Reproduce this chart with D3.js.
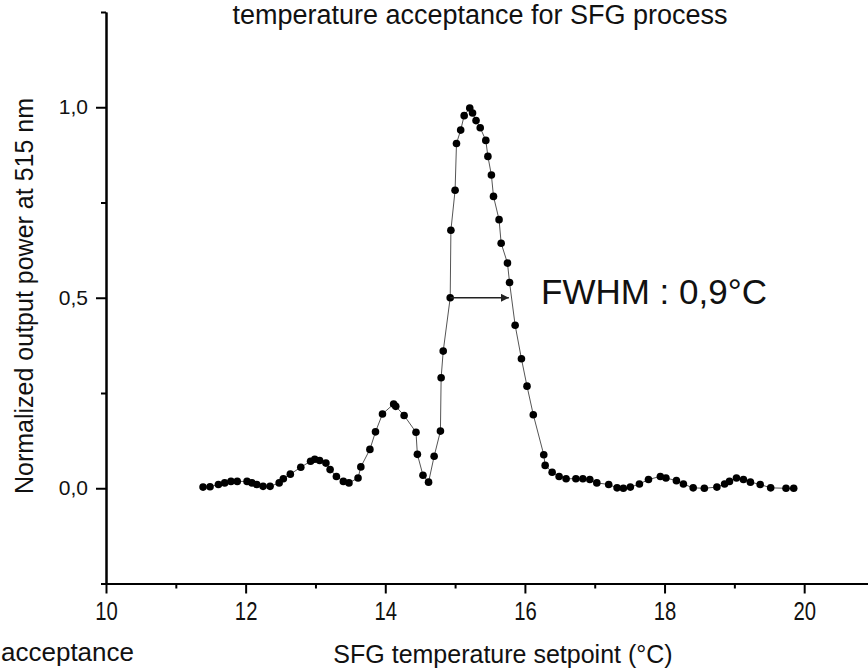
<!DOCTYPE html>
<html>
<head>
<meta charset="utf-8">
<script src="https://cdn.jsdelivr.net/npm/d3@7"></script>
<style>
  html, body { margin: 0; padding: 0; background: #fff; }
  svg { display: block; }
  text { font-family: "Liberation Sans", Arial, Helvetica, sans-serif; fill: #111; }
</style>
</head>
<body>
<svg id="chart" width="868" height="668"></svg>
<script>
// ---- data ----
const temps = [11.39,11.49,11.61,11.70,11.79,11.88,12.02,12.09,12.16,12.25,
  12.35,12.48,12.54,12.64,12.79,12.93,12.99,13.06,13.15,13.21,
  13.30,13.40,13.48,13.61,13.65,13.78,13.86,13.96,14.12,14.15,
  14.27,14.44,14.46,14.54,14.62,14.70,14.79,14.80,14.83,14.93,
  14.94,15.00,15.02,15.08,15.13,15.21,15.25,15.30,15.36,15.44,
  15.47,15.52,15.55,15.63,15.66,15.75,15.78,15.86,15.95,16.03,
  16.12,16.27,16.29,16.39,16.49,16.59,16.73,16.83,16.93,17.03,
  17.20,17.32,17.41,17.51,17.64,17.77,17.94,18.02,18.17,18.27,
  18.41,18.57,18.75,18.86,18.93,19.03,19.13,19.23,19.37,19.52,
  19.74,19.85];
const power = [0.003,0.004,0.010,0.014,0.018,0.018,0.018,0.014,0.010,0.005,
  0.005,0.014,0.025,0.037,0.055,0.071,0.076,0.073,0.066,0.049,
  0.031,0.018,0.014,0.027,0.056,0.102,0.148,0.195,0.221,0.215,
  0.191,0.147,0.089,0.034,0.016,0.084,0.150,0.290,0.360,0.500,
  0.677,0.782,0.905,0.940,0.978,0.998,0.985,0.965,0.946,0.913,
  0.871,0.822,0.766,0.705,0.643,0.591,0.540,0.428,0.340,0.268,
  0.193,0.088,0.060,0.042,0.031,0.025,0.025,0.025,0.023,0.014,
  0.010,0.001,0.000,0.003,0.011,0.023,0.031,0.027,0.020,0.011,
  0.001,0.000,0.003,0.011,0.018,0.027,0.023,0.016,0.010,0.001,
  0.000,0.000];
const xMajorTicks = [10, 12, 14, 16, 18, 20];
const xMinorTicks = [11, 13, 15, 17, 19, 21];
const yMajorTicks = [0, 0.5, 1.0];
const yMinorTicks = [-0.25, 0.25, 0.75, 1.25];
const fwhmStart = 14.93, fwhmEnd = 15.77, fwhmLevel = 0.5;
const titleText = "temperature acceptance for SFG process";
const xLabel = "SFG temperature setpoint (°C)";
const yLabel = "Normalized output power at 515 nm";
const fwhmText = "FWHM : 0,9°C";
const strayText = "acceptance";

// ---- drawing ----
const svg = d3.select("#chart");
svg.append("rect").attr("width", 868).attr("height", 668).attr("fill", "#fff");

const x = d3.scaleLinear().domain([10, 21]).range([106, 874]);
const y = d3.scaleLinear().domain([-0.25, 1.25]).range([583.5, 12]);
const fmt = d => d3.format(".1f")(d).replace(".", ",");

// x axis
const gx = svg.append("g").attr("transform", `translate(0,${y(-0.25)})`);
gx.call(d3.axisBottom(x).tickValues(xMajorTicks).tickSize(10).tickSizeOuter(0).tickPadding(8).tickFormat(d3.format("d")));
gx.append("g").call(d3.axisBottom(x).tickValues(xMinorTicks).tickSize(5).tickSizeOuter(0).tickFormat(""));
gx.selectAll(".domain").attr("stroke", "#000").attr("stroke-width", 2);
gx.selectAll(".tick line").attr("stroke", "#000").attr("stroke-width", 2);
gx.selectAll(".tick text")
  .attr("font-size", 26)
  .attr("fill", "#111")
  .attr("transform", "scale(0.78,1)");

// y axis
const gy = svg.append("g").attr("transform", `translate(${x(10)},0)`);
gy.call(d3.axisLeft(y).tickValues(yMajorTicks).tickSize(10).tickSizeOuter(0).tickPadding(8).tickFormat(fmt));
gy.append("g").call(d3.axisLeft(y).tickValues(yMinorTicks).tickSize(5).tickSizeOuter(0).tickFormat(""));
gy.selectAll(".domain").attr("stroke", "#000").attr("stroke-width", 2);
gy.selectAll(".tick line").attr("stroke", "#000").attr("stroke-width", 2);
gy.selectAll(".tick text").attr("font-size", 21).attr("fill", "#111");

// connecting line
const pts = temps.map((t, i) => [t, power[i]]);
svg.append("path")
  .datum(pts)
  .attr("fill", "none")
  .attr("stroke", "#555")
  .attr("stroke-width", 1)
  .attr("d", d3.line().x(d => x(d[0])).y(d => y(d[1])));

// dots
svg.append("g").selectAll("circle").data(pts).join("circle")
  .attr("cx", d => x(d[0]))
  .attr("cy", d => y(d[1]))
  .attr("r", 3.8)
  .attr("fill", "#000");

// FWHM arrow
const defs = svg.append("defs");
defs.append("marker")
  .attr("id", "arrow")
  .attr("viewBox", "0 0 10 10")
  .attr("refX", 10).attr("refY", 5)
  .attr("markerWidth", 8).attr("markerHeight", 8)
  .attr("markerUnits", "userSpaceOnUse")
  .attr("orient", "auto")
  .append("path").attr("d", "M0,0 L10,5 L0,10 z").attr("fill", "#222");
svg.append("line")
  .attr("x1", x(fwhmStart)).attr("x2", x(fwhmEnd))
  .attr("y1", y(fwhmLevel)).attr("y2", y(fwhmLevel))
  .attr("stroke", "#222").attr("stroke-width", 1.6)
  .attr("marker-end", "url(#arrow)");

svg.append("text")
  .attr("x", 541).attr("y", 304)
  .attr("font-size", 35)
  .attr("fill", "#000")
  .text(fwhmText);

// title
svg.append("text")
  .attr("x", 480).attr("y", 24)
  .attr("text-anchor", "middle")
  .attr("font-size", 27)
  .text(titleText);

// axis labels
svg.append("text")
  .attr("x", 503).attr("y", 663)
  .attr("text-anchor", "middle")
  .attr("font-size", 25)
  .text(xLabel);

svg.append("text")
  .attr("transform", "translate(33,296) rotate(-90)")
  .attr("text-anchor", "middle")
  .attr("font-size", 25)
  .text(yLabel);

// caption fragment at bottom-left (cropped in the reference); kept fully inside
svg.append("text")
  .attr("x", 1).attr("y", 661)
  .attr("font-size", 26)
  .attr("fill", "#000")
  .text(strayText);
</script>
</body>
</html>
